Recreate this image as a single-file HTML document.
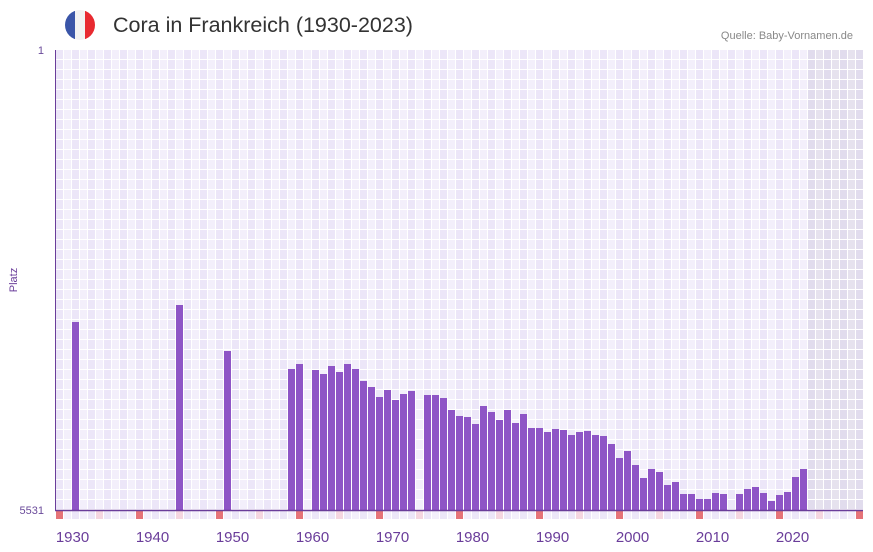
<!DOCTYPE html>
<html><head><meta charset="utf-8"><style>
body{margin:0;background:#fff;width:873px;height:552px;overflow:hidden;font-family:"Liberation Sans",sans-serif;position:relative}
.t{position:absolute;left:113px;top:13px;font-size:21.5px;color:#333}
.q{position:absolute;right:20px;top:30px;font-size:11px;color:#888}
</style></head><body>
<svg width="873" height="552" style="position:absolute;left:0;top:0" id="s">
<defs><clipPath id="c"><circle cx="80" cy="25" r="15"/></clipPath></defs>
<g clip-path="url(#c)"><rect x="65" y="10" width="10" height="30" fill="#3a55a8"/><rect x="75" y="10" width="10" height="30" fill="#f2f2f2"/><rect x="85" y="10" width="10" height="30" fill="#e82a30"/></g>
<g id="g"></g>
<text x="44" y="54" font-size="11" fill="#6a4a9a" text-anchor="end" font-family="Liberation Sans">1</text>
<text x="44" y="514" font-size="11" fill="#6a4a9a" text-anchor="end" font-family="Liberation Sans">5531</text>
<text x="17" y="280" font-size="11" fill="#6a3d9a" text-anchor="middle" transform="rotate(-90 17 280)" font-family="Liberation Sans">Platz</text>
</svg>
<div class="t">Cora in Frankreich (1930-2023)</div>
<div class="q">Quelle: Baby-Vornamen.de</div>
<script>
var g=document.getElementById('g'),h='';
for(var i=0;i<101;i++){var x=56+i*8;var col=i%2?'#f3effb':'#ece6f8';if(i>=94)col=i%2?'#e6e2ee':'#e1dced';
for(var r=0;r<46;r++)h+='<rect x="'+x+'" y="'+(50+r*10)+'" width="7" height="9" fill="'+col+'"/>';
var yr=1928+i,sc=(yr%10==8)?'#e57378':(yr%10==3?'#f5d6e0':(i%2?'#f3effb':'#ece6f8'));
h+='<rect x="'+x+'" y="511" width="7" height="8" fill="'+sc+'"/>';}
var d={1930:322,1943:305,1949:351,1957:369,1958:364,1960:370,1961:374,1962:366,1963:372,1964:364,1965:369,1966:381,1967:387,1968:397,1969:390,1970:400,1971:394,1972:391,1974:395,1975:395,1976:398,1977:410,1978:416,1979:417,1980:424,1981:406,1982:412,1983:420,1984:410,1985:423,1986:414,1987:428,1988:428,1989:432,1990:429,1991:430,1992:435,1993:432,1994:431,1995:435,1996:436,1997:444,1998:458,1999:451,2000:465,2001:478,2002:469,2003:472,2004:485,2005:482,2006:494,2007:494,2008:499,2009:499,2010:493,2011:494,2013:494,2014:489,2015:487,2016:493,2017:501,2018:495,2019:492,2020:477,2021:469};
for(var y in d){var x=56+(y-1928)*8;h+='<rect x="'+x+'" y="'+d[y]+'" width="7" height="'+(510-d[y])+'" fill="#8e55c6"/>';}
h+='<line x1="55.5" y1="50" x2="55.5" y2="510" stroke="#6a3d9a"/><line x1="55" y1="510.5" x2="863" y2="510.5" stroke="#6a3d9a" stroke-width="1.5"/>';
for(var y=1930;y<=2020;y+=10){var x=56+(y-1928)*8+0.5;h+='<text x="'+x+'" y="542" font-size="15" fill="#6a3d9a" text-anchor="middle" font-family="Liberation Sans">'+y+'</text>';}
g.innerHTML=h;
</script>
</body></html>
